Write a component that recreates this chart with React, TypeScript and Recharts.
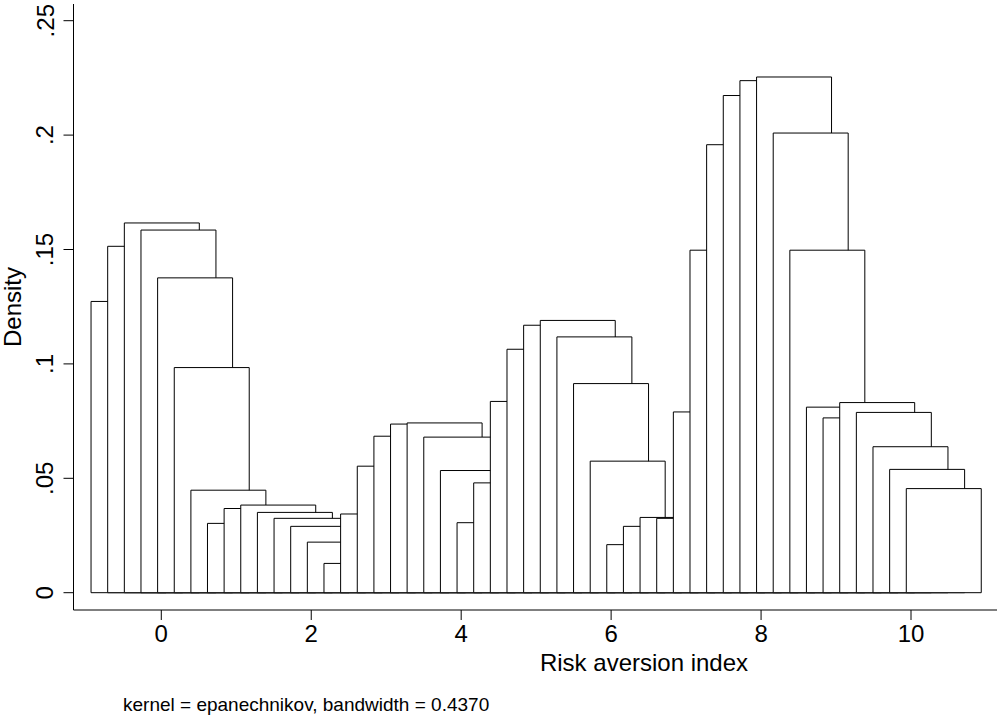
import React from 'react';
import { ComposedChart, XAxis, YAxis, Line, ReferenceArea, Label } from 'recharts';

const xPoints = [
  -0.437, -0.215, 0.007, 0.229, 0.451, 0.673, 0.895, 1.116, 1.338, 1.56,
  1.782, 2.004, 2.226, 2.448, 2.67, 2.892, 3.114, 3.336, 3.558, 3.779,
  4.001, 4.223, 4.445, 4.667, 4.889, 5.111, 5.333, 5.555, 5.777, 5.999,
  6.221, 6.442, 6.664, 6.886, 7.108, 7.33, 7.552, 7.774, 7.996, 8.218,
  8.44, 8.662, 8.884, 9.105, 9.327, 9.549, 9.771, 9.993, 10.215, 10.437,
];

const densities = [
  0.1273, 0.1514, 0.1616, 0.1585, 0.1376, 0.0984, 0.0448, 0.0303, 0.0368, 0.0383,
  0.0351, 0.0325, 0.029, 0.0221, 0.0128, 0.0344, 0.0553, 0.0684, 0.0737, 0.0742,
  0.068, 0.0534, 0.0306, 0.048, 0.0836, 0.1064, 0.1169, 0.119, 0.1118, 0.0914,
  0.0575, 0.021, 0.029, 0.0329, 0.0325, 0.079, 0.1497, 0.1958, 0.2173, 0.2238,
  0.2254, 0.2009, 0.1497, 0.0811, 0.0764, 0.0831, 0.0788, 0.0638, 0.0539, 0.0455,
];

const barWidth = 1;
const xTicks = [0, 2, 4, 6, 8, 10];
const yTicks = [0, 0.05, 0.1, 0.15, 0.2, 0.25];
const xTitle = 'Risk aversion index';
const yTitle = 'Density';
const noteText = 'kernel = epanechnikov, bandwidth = 0.4370';

const data = xPoints.map((x, i) => ({ x, density: densities[i] }));
const FONT = '"Liberation Sans", Arial, Helvetica, sans-serif';

const fmtY = (v: number) => (v === 0 ? '0' : String(v).replace(/^0/, ''));

const YTick = (props: any) => {
  const { x, y, payload } = props;
  return (
    <text
      x={x}
      y={y}
      transform={`rotate(-90 ${x} ${y})`}
      textAnchor="middle"
      fontSize={24}
      fill="#000"
      fontFamily={FONT}
    >
      {fmtY(payload.value)}
    </text>
  );
};

const XTick = (props: any) => {
  const { x, y, payload } = props;
  return (
    <text x={x} y={y + 18} textAnchor="middle" fontSize={24} fill="#000" fontFamily={FONT}>
      {payload.value}
    </text>
  );
};

const YTitle = (props: any) => {
  const vb = props.viewBox || {};
  const cx = 21;
  const cy = vb.y + vb.height / 2;
  return (
    <text x={cx} y={cy} transform={`rotate(-90 ${cx} ${cy})`} textAnchor="middle" fontSize={24} fill="#000" fontFamily={FONT}>
      {yTitle}
    </text>
  );
};

const XTitle = () => {
  return (
    <g>
      <text x={644} y={671} textAnchor="middle" fontSize={24} fill="#000" fontFamily={FONT}>
        {xTitle}
      </text>
      <text x={123} y={711} textAnchor="start" fontSize={19} fill="#000" fontFamily={FONT}>
        {noteText}
      </text>
    </g>
  );
};

export default function App() {
  return (
    <div style={{ position: 'absolute', left: 0, top: 0, width: 997, height: 717, overflow: 'hidden', background: '#fff' }}>
      <ComposedChart width={997} height={717} data={data} margin={{ top: 4, right: 0, bottom: 0, left: 0 }}>
        <XAxis
          type="number"
          dataKey="x"
          domain={[-1.171, 11.147]}
          ticks={xTicks}
          allowDataOverflow
          height={107}
          tickSize={10}
          tickMargin={4}
          axisLine={{ stroke: '#000', strokeWidth: 1 }}
          tickLine={{ stroke: '#000', strokeWidth: 1 }}
          tick={<XTick />}
          interval={0}
        >
          <Label content={<XTitle />} />
        </XAxis>
        <YAxis
          type="number"
          domain={[-0.00756, 0.2573]}
          ticks={yTicks}
          allowDataOverflow
          width={73.5}
          tickSize={10}
          tickMargin={10}
          axisLine={{ stroke: '#000', strokeWidth: 1 }}
          tickLine={{ stroke: '#000', strokeWidth: 1 }}
          tick={<YTick />}
          interval={0}
        >
          <Label content={<YTitle />} />
        </YAxis>
        {data.map((d, i) => (
          <ReferenceArea
            key={i}
            x1={d.x - barWidth / 2}
            x2={d.x + barWidth / 2}
            y1={0}
            y2={d.density}
            fill="#fff"
            fillOpacity={1}
            stroke="#000"
            strokeWidth={1}
            ifOverflow="visible"
          />
        ))}
        <Line dataKey="density" stroke="none" dot={false} activeDot={false} isAnimationActive={false} />
      </ComposedChart>
    </div>
  );
}
